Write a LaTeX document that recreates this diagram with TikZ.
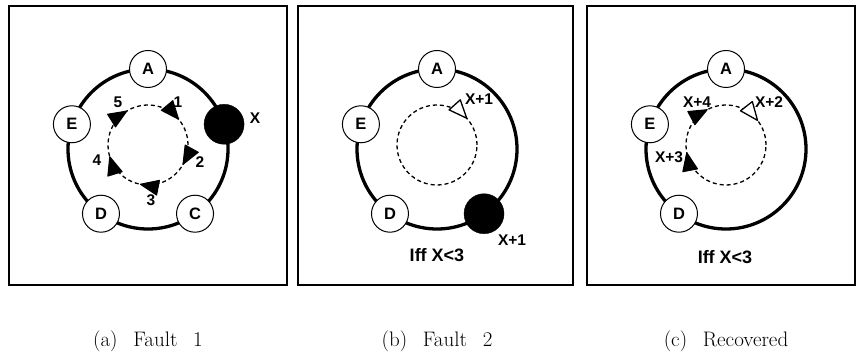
\documentclass[tikz,border=0pt]{standalone}
\usepackage{fontspec}
\newfontfamily\labelfont{Liberation Sans}

\begin{document}
\begin{tikzpicture}[x = 1pt, y = 1pt,
		frame/.style = {draw, line width=1.2pt},
		ring/.style = {line width=3.3pt},
		station/.style = {circle, draw, fill=white, line width=1pt, minimum size=37pt, inner sep=0pt,
			font=\labelfont\bfseries\fontsize{16.5}{18}\selectfont},
		failed/.style = {circle, draw, fill=black, minimum size=40pt, inner sep=0pt},
		tag/.style = {inner sep=0pt, font=\labelfont\bfseries\fontsize{15.5}{18}\selectfont},
		cond/.style = {inner sep=0pt, font=\labelfont\bfseries\fontsize{18}{20}\selectfont},
		caption/.style = {font=\fontsize{21}{25}\selectfont},
		token/.style = {line width=1.3pt, dash pattern=on 4pt off 3pt},
		full/.style = {draw, fill=black, line width=1pt, line join=round},
		hollow/.style = {draw, fill=white, line width=1.3pt, line join=round}]
	\useasboundingbox (0,0) rectangle (856,361);
	
	% Frames
	\draw[frame] (9,76) rectangle (287,355);
	\draw[frame] (298,76) rectangle (573,355);
	\draw[frame] (587,76) rectangle (855,355);
	
	% (a) Fault 1
	\begin{scope}[shift={(148,212)}]
		\draw[ring] (0,0) circle (80);
		\begin{scope}[yshift=4pt]
			\draw[token] (0,0) circle (40);
			\foreach \a in {40, 122, 197, 259, 331}
				\path[full, rotate=\a] (40,0) -- ++(-7.5,18) -- ++(15,0) -- cycle;
		\end{scope}
		\node[station] (a1) at (90:80) {A};
		\node[station] (e1) at (162:80) {E};
		\node[station] (d1) at (234:80) {D};
		\node[station] (c1) at (306:80) {C};
		\node[failed] (x1) at (18:80) {};
		\node[tag] (xl1) at (107,31) {X};
		\node[tag] (n1) at (30,47) {1};
		\node[tag] (n2) at (52,-13) {2};
		\node[tag] (n3) at (3,-51) {3};
		\node[tag] (n4) at (-51,-11) {4};
		\node[tag] (n5) at (-30,47) {5};
		\node[caption] (cap1) at (0,-192) {(a)\hskip.75em Fault\hskip.75em 1};
	\end{scope}
	
	% (b) Fault 2
	\begin{scope}[shift={(437,212)}]
		\draw[ring] (0,0) circle (80);
		\begin{scope}[yshift=4pt]
			\draw[token] (0,0) circle (40);
			\path[hollow, rotate=42] (40,0) -- ++(-7.5,18) -- ++(15,0) -- cycle;
		\end{scope}
		\node[station] (a2) at (90:80) {A};
		\node[station] (e2) at (162:80) {E};
		\node[station] (d2) at (234:80) {D};
		\node[failed] (x2) at (306:80) {};
		\node[tag] (t2) at (42,50) {X+1};
		\node[tag] (xl2) at (75,-91) {X+1};
		\node[cond] (iff2) at (0,-106) {Iff X<3};
		\node[caption] (cap2) at (0,-192) {(b)\hskip.75em Fault\hskip.75em 2};
	\end{scope}
	
	% (c) Recovered
	\begin{scope}[shift={(726,212)}]
		\draw[ring] (0,0) circle (80);
		\begin{scope}[yshift=4pt]
			\draw[token] (0,0) circle (40);
			\path[hollow, rotate=38] (40,0) -- ++(-7.5,18) -- ++(15,0) -- cycle;
			\foreach \a in {118, 191}
				\path[full, rotate=\a] (40,0) -- ++(-7.5,18) -- ++(15,0) -- cycle;
		\end{scope}
		\node[station] (a3) at (90:80) {A};
		\node[station] (e3) at (162:80) {E};
		\node[station] (d3) at (234:80) {D};
		\node[tag] (t32) at (43,47) {X+2};
		\node[tag] (t34) at (-29,47) {X+4};
		\node[tag] (t33) at (-57,-8) {X+3};
		\node[cond] (iff3) at (-1,-108) {Iff X<3};
		\node[caption] (cap3) at (0,-192) {(c)\hskip.75em Recovered};
	\end{scope}
\end{tikzpicture}
\end{document}
